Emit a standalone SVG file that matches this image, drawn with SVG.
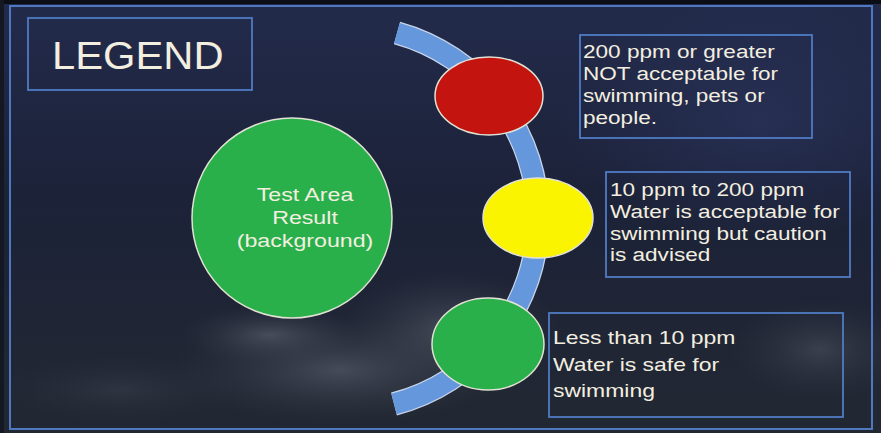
<svg xmlns="http://www.w3.org/2000/svg" width="881" height="433" viewBox="0 0 881 433">
  <defs>
    <linearGradient id="bg" x1="0" y1="0" x2="0" y2="1">
      <stop offset="0" stop-color="#232b4c"/>
      <stop offset="0.45" stop-color="#1c2238"/>
      <stop offset="1" stop-color="#222832"/>
    </linearGradient>
    <radialGradient id="cloud" cx="0.5" cy="0.5" r="0.5">
      <stop offset="0" stop-color="#6a707c" stop-opacity="0.5"/>
      <stop offset="0.6" stop-color="#4a505c" stop-opacity="0.22"/>
      <stop offset="1" stop-color="#3a404c" stop-opacity="0"/>
    </radialGradient>
    <radialGradient id="haze" cx="0.5" cy="0.5" r="0.5">
      <stop offset="0" stop-color="#2c3560" stop-opacity="0.6"/>
      <stop offset="1" stop-color="#2c3560" stop-opacity="0"/>
    </radialGradient>
    <style>
      .frame { fill: none; stroke: #4f78c0; stroke-width: 2; }
      .box { fill: none; stroke: #4f7cc4; stroke-width: 1.8; }
      .txt { font-family: "Liberation Sans", Arial, sans-serif; fill: #f3efe0; }
      .lbl { font-size: 18.8px; }
      .dot { stroke: #e2e2d4; stroke-width: 1.5; }
    </style>
  </defs>

  <!-- background -->
  <rect x="0" y="0" width="881" height="433" fill="url(#bg)"/>
  <ellipse cx="760" cy="120" rx="200" ry="120" fill="url(#haze)"/>
  <ellipse cx="340" cy="370" rx="170" ry="55" fill="url(#cloud)"/>
  <ellipse cx="450" cy="330" rx="110" ry="60" fill="url(#cloud)"/>
  <ellipse cx="270" cy="335" rx="90" ry="30" fill="url(#cloud)"/>
  <ellipse cx="820" cy="350" rx="90" ry="50" fill="url(#cloud)" opacity="0.7"/>
  <ellipse cx="120" cy="390" rx="120" ry="35" fill="url(#cloud)" opacity="0.35"/>
  <rect x="0" y="0" width="881" height="4" fill="#0c0e16"/>
  <rect x="0" y="0" width="4" height="433" fill="#141822"/>
  <rect x="10" y="6" width="862" height="423" class="frame"/>

  <!-- connector band -->
  <g id="connectors">
    <path d="M 397 33 A 192 192 0 0 1 394 404" fill="none" stroke="#c9d5ea" stroke-width="23.5"/>
    <path d="M 397 33 A 192 192 0 0 1 394 404" fill="none" stroke="#6597dd" stroke-width="21"/>
  </g>

  <g id="legend">
    <rect x="28" y="18" width="224" height="72" class="box"/>
    <text class="txt" font-size="39" transform="translate(52 69) scale(1.07 1)">LEGEND</text>
  </g>

  <g id="test-area">
    <ellipse cx="292" cy="218" rx="100" ry="100" fill="#29b04b" class="dot"/>
    <g class="txt" font-size="19" text-anchor="middle">
      <text transform="translate(305 201) scale(1.22 1)">Test Area</text>
      <text transform="translate(305 224) scale(1.22 1)">Result</text>
      <text transform="translate(305 247) scale(1.22 1)">(background)</text>
    </g>
  </g>

  <g id="red">
    <ellipse cx="489" cy="96" rx="54" ry="39" fill="#c3140f" class="dot"/>
  </g>
  <g id="yellow">
    <ellipse cx="538" cy="218" rx="55" ry="40" fill="#fbf400" class="dot"/>
  </g>
  <g id="green">
    <ellipse cx="488" cy="344" rx="56" ry="46" fill="#29b04b" class="dot"/>
  </g>

  <g id="label-red">
    <rect x="580" y="35" width="232" height="103" class="box"/>
    <g class="txt lbl">
      <text transform="translate(583 58) scale(1.2 1)">200 ppm or greater</text>
      <text transform="translate(583 80) scale(1.2 1)">NOT acceptable for</text>
      <text transform="translate(583 102) scale(1.2 1)">swimming, pets or</text>
      <text transform="translate(583 124) scale(1.2 1)">people.</text>
    </g>
  </g>

  <g id="label-yellow">
    <rect x="606" y="172" width="244" height="105" class="box"/>
    <g class="txt lbl">
      <text transform="translate(610 196) scale(1.2 1)">10 ppm to 200 ppm</text>
      <text transform="translate(610 218) scale(1.2 1)">Water is acceptable for</text>
      <text transform="translate(610 240) scale(1.2 1)">swimming but caution</text>
      <text transform="translate(610 261) scale(1.2 1)">is advised</text>
    </g>
  </g>

  <g id="label-green">
    <rect x="549" y="313" width="294" height="104" class="box"/>
    <g class="txt lbl">
      <text transform="translate(553 344) scale(1.22 1)">Less than 10 ppm</text>
      <text transform="translate(553 371) scale(1.22 1)">Water is safe for</text>
      <text transform="translate(553 397) scale(1.22 1)">swimming</text>
    </g>
  </g>
</svg>
